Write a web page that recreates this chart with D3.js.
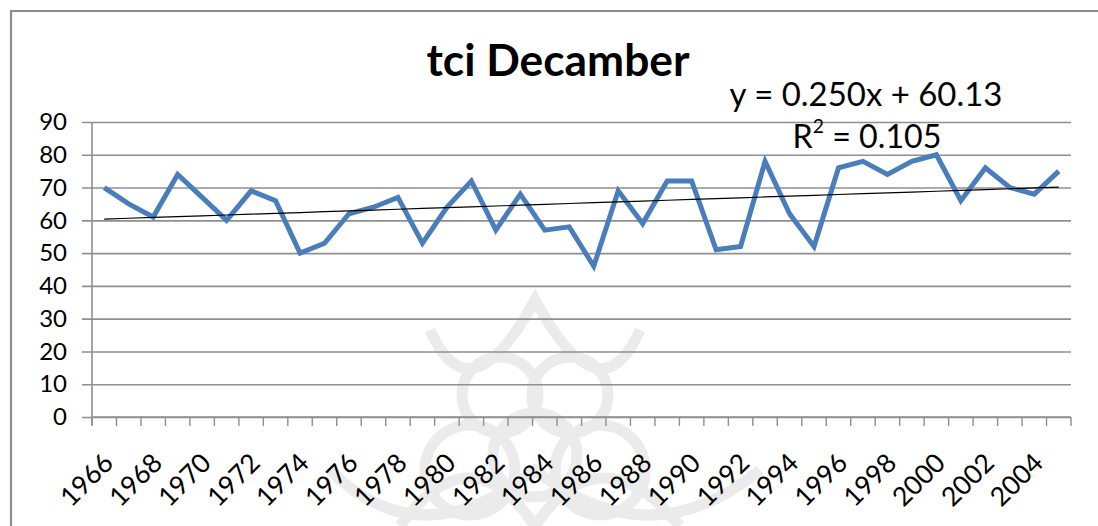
<!DOCTYPE html>
<html>
<head>
<meta charset="utf-8">
<script src="https://cdn.jsdelivr.net/npm/d3@7"></script>
<style>
  html, body { margin: 0; padding: 0; background: #fff; }
  svg { display: block; }
  text { font-family: Lato, "Open Sans", sans-serif; fill: #000; }
</style>
</head>
<body>
<svg id="chart" width="1098" height="526"></svg>
<script>
// ---- data ----
const years = [1966,1967,1968,1969,1970,1971,1972,1973,1974,1975,
               1976,1977,1978,1979,1980,1981,1982,1983,1984,1985,
               1986,1987,1988,1989,1990,1991,1992,1993,1994,1995,
               1996,1997,1998,1999,2000,2001,2002,2003,2004,2005];
const tci = [70,65,61,74,67,60,69,66,50,53,
             62,64,67,53,64,72,57,68,57,58,
             46,69,59,72,72,51,52,78,62,52,
             76,78,74,78,80,66,76,70,68,75];
const yTicks = [0,10,20,30,40,50,60,70,80,90];
const xLabelYears = years.filter((d, i) => i % 2 === 0 && i < 39);
const trendSlope = 0.250;
const trendIntercept = 60.13;
const titleText = "tci Decamber";
const eqText = "y = 0.250x + 60.13";
const r2Value = "0.105";

// ---- layout ----
const svg = d3.select("#chart");
const mLeft = 92, mRight = 1071, mTop = 122, mBottom = 417;

// faint background watermark ornament (decorative)
const wm = svg.append("g").attr("fill", "none").attr("stroke", "#ebebeb").attr("stroke-width", 11);
[[500, 395, 38], [570, 395, 38], [535, 455, 42], [470, 470, 45], [600, 470, 45]].forEach(c => {
  wm.append("circle").attr("cx", c[0]).attr("cy", c[1]).attr("r", c[2]);
});
wm.append("path").attr("d", "M430,330 Q470,420 535,300 Q600,420 640,330");
wm.append("path").attr("d", "M330,470 Q420,560 535,470 Q650,560 760,470");
wm.append("path").attr("d", "M400,526 Q470,430 535,526 Q600,430 680,526");

// outer chart border (only top and left visible in the crop)
svg.append("path")
  .attr("d", "M11,526 L11,11 L1098,11")
  .attr("fill", "none").attr("stroke", "#8c8c8c").attr("stroke-width", 2.2);

const x = d3.scaleBand().domain(years).range([mLeft, mRight]);
const y = d3.scaleLinear().domain([0, 90]).range([mBottom, mTop]);

// gridlines + y labels
const yAxis = d3.axisLeft(y).tickValues(yTicks).tickSize(-(mRight - mLeft)).tickSizeOuter(0).tickPadding(14);
const gy = svg.append("g").attr("transform", `translate(${mLeft},0)`).call(yAxis);
gy.select(".domain").remove();
gy.selectAll(".tick line").attr("stroke", "#8f8f8f").attr("stroke-width", 1.6).attr("x1", -10);
gy.selectAll(".tick text").attr("font-size", 24).attr("font-family", "Lato").attr("fill", "#111").attr("x", -25);

// vertical axis line
svg.append("line").attr("x1", mLeft).attr("x2", mLeft).attr("y1", mTop).attr("y2", mBottom + 8)
  .attr("stroke", "#8f8f8f").attr("stroke-width", 1.6);

// x axis: tick marks at category boundaries
const gx = svg.append("g").attr("transform", `translate(0,${mBottom})`);
gx.append("line").attr("x1", mLeft).attr("x2", mRight).attr("stroke", "#8f8f8f").attr("stroke-width", 1.6);
const bounds = years.map(d => x(d)).concat([mRight]);
gx.selectAll("line.tk").data(bounds).join("line").attr("class", "tk")
  .attr("x1", d => d).attr("x2", d => d).attr("y1", 0).attr("y2", 9)
  .attr("stroke", "#8f8f8f").attr("stroke-width", 1.4);
gx.selectAll("text.xl").data(xLabelYears).join("text").attr("class", "xl")
  .attr("transform", d => `translate(${x(d) + x.bandwidth() / 2 + 4},${41}) rotate(-45)`)
  .attr("text-anchor", "end").attr("dy", "0.35em")
  .attr("font-size", 26.5).attr("fill", "#111")
  .text(d => d);

// series line
const cx = d => x(d) + x.bandwidth() / 2;
const line = d3.line().x((d, i) => cx(years[i])).y(d => y(d));
svg.append("path").datum(tci).attr("d", line)
  .attr("fill", "none").attr("stroke", "#4A7EBB").attr("stroke-width", 5)
  .attr("stroke-linejoin", "miter");

// linear trendline
const trend = years.map((d, i) => trendSlope * (i + 1) + trendIntercept);
svg.append("path").datum(trend).attr("d", line)
  .attr("fill", "none").attr("stroke", "#000").attr("stroke-width", 1.2);

// fit text to width helper
function fitText(sel, target) {
  const w = sel.node().getComputedTextLength();
  const fs = parseFloat(sel.attr("font-size"));
  sel.attr("font-size", fs * target / w);
}

// title
const title = svg.append("text").attr("x", 558).attr("y", 76).attr("text-anchor", "middle")
  .attr("font-weight", "bold").attr("font-size", 36).text(titleText);
fitText(title, 263);

// equation
const eq = svg.append("text").attr("x", 866).attr("y", 106).attr("text-anchor", "middle")
  .attr("font-size", 30).attr("fill", "#111").text(eqText);
fitText(eq, 273);

const r2 = svg.append("text").attr("x", 867).attr("y", 148).attr("text-anchor", "middle")
  .attr("font-size", 30).attr("fill", "#111");
r2.append("tspan").text("R");
r2.append("tspan").attr("font-size", "0.6em").attr("dy", "-0.75em").text("2");
r2.append("tspan").attr("dy", "0.45em").text(" = " + r2Value);
{
  const w = r2.node().getBBox().width;
  r2.attr("font-size", 30 * 149 / w);
}
</script>
</body>
</html>
